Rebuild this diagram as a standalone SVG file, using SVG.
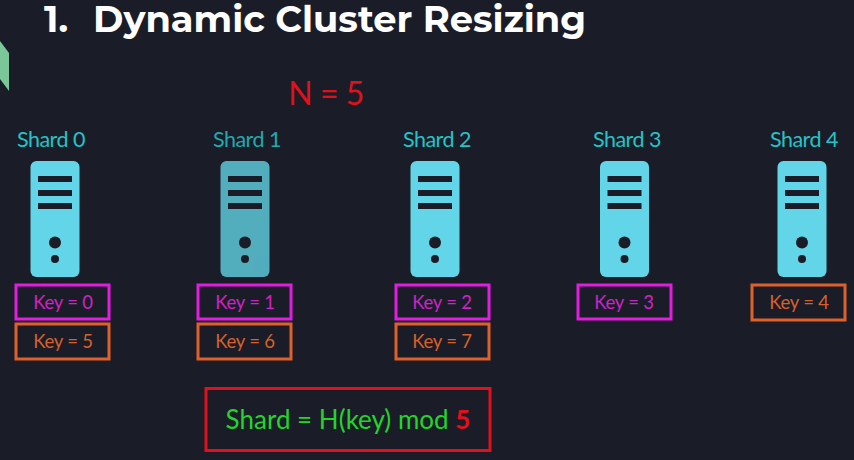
<svg xmlns="http://www.w3.org/2000/svg" width="854" height="460" viewBox="0 0 854 460">
<defs>
<style>
text{font-family:Lato,"Open Sans",sans-serif;text-anchor:middle}
.title{font-family:Montserrat,Inter,"Open Sans",sans-serif;font-weight:700;font-size:36.800px;fill:#fff;text-anchor:start}
.shard{font-size:21.500px;letter-spacing:-0.500px;fill:#23c4c8}
.key{font-size:18.500px;letter-spacing:-0.200px}
.m{fill:none;stroke:#e21ce0;stroke-width:3}
.o{fill:none;stroke:#e0602a;stroke-width:3}
.mt{fill:#cf22c8}
.ot{fill:#d9602c}
.bar,.dot{fill:#1a1d27}
</style>
<g id="server">
<rect x="-24.500" y="0" width="49" height="116" rx="6" fill="#62d6e8"/>
<rect class="bar" x="-17" y="15" width="34" height="6"/>
<rect class="bar" x="-17" y="29" width="34" height="6"/>
<rect class="bar" x="-17" y="42" width="34" height="6"/>
<circle class="dot" cx="0" cy="81.500" r="6"/>
<circle class="dot" cx="0" cy="98" r="4"/>
</g>
</defs>
<rect width="854" height="460" fill="#1a1d27"/>
<polygon points="0,41 9,53 9,91 0,79" fill="#7cc79a"/>
<text class="title" x="44" y="32">1.</text>
<text class="title" x="93" y="32">Dynamic Cluster Resizing</text>
<text x="326" y="105" font-size="32" letter-spacing="-0.500" fill="#e0101c">N = 5</text>
<g id="shard0">
<text class="shard" x="51" y="147">Shard 0</text>
<use href="#server" x="55" y="161"/>
<rect class="m" x="16" y="285" width="93" height="34"/><text class="key mt" x="63" y="309">Key = 0</text>
<rect class="o" x="16" y="324" width="93" height="35"/><text class="key ot" x="63" y="348">Key = 5</text>
</g>
<g id="shard1">
<text class="shard" x="247" y="147" style="fill:#22a9b0">Shard 1</text>
<use href="#server" x="245" y="161" opacity="0.78"/>
<rect class="m" x="198" y="285" width="93" height="34"/><text class="key mt" x="245" y="309">Key = 1</text>
<rect class="o" x="198" y="324" width="93" height="35"/><text class="key ot" x="245" y="348">Key = 6</text>
</g>
<g id="shard2">
<text class="shard" x="437" y="147">Shard 2</text>
<use href="#server" x="435" y="161"/>
<rect class="m" x="396" y="285" width="93" height="34"/><text class="key mt" x="442" y="309">Key = 2</text>
<rect class="o" x="396" y="324" width="93" height="35"/><text class="key ot" x="442" y="348">Key = 7</text>
</g>
<g id="shard3">
<text class="shard" x="627" y="147">Shard 3</text>
<use href="#server" x="624.500" y="161"/>
<rect class="m" x="578" y="285" width="93" height="34"/><text class="key mt" x="624" y="309">Key = 3</text>
</g>
<g id="shard4">
<text class="shard" x="804" y="147">Shard 4</text>
<use href="#server" x="802" y="161"/>
<rect class="o" x="752" y="285" width="93" height="35"/><text class="key ot" x="799" y="309">Key = 4</text>
</g>
<g id="formula">
<rect x="206" y="388.500" width="284" height="62" fill="none" stroke="#e0101c" stroke-width="3"/>
<text x="348" y="429" font-size="26" fill="#22d42c">Shard = H(key) mod <tspan fill="#e0101c" font-weight="700">5</tspan></text>
</g>
</svg>
